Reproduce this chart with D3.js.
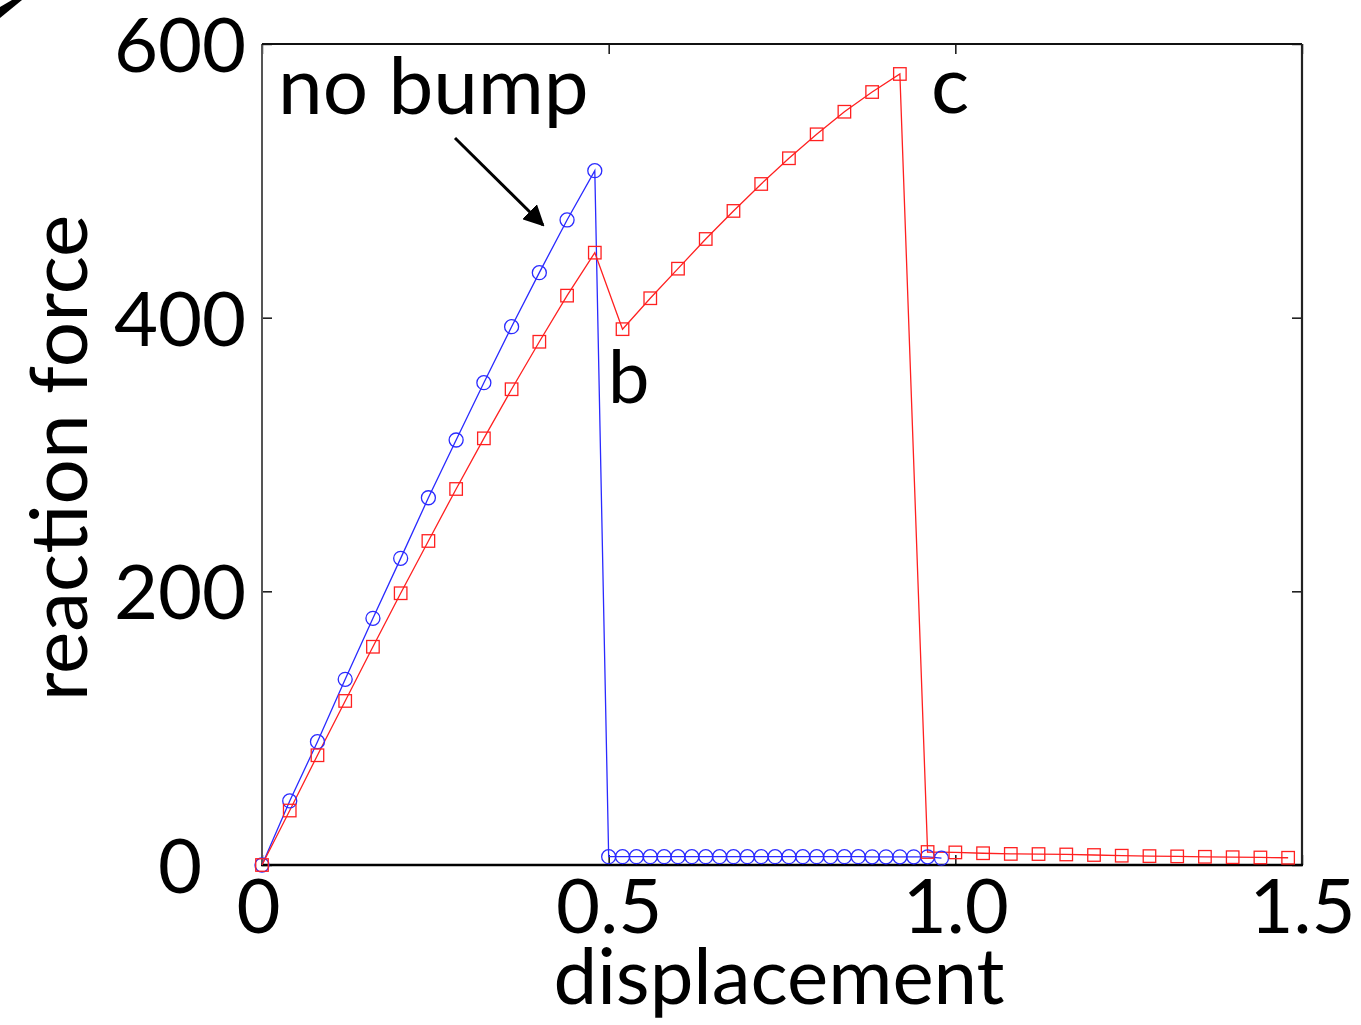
<!DOCTYPE html>
<html>
<head>
<meta charset="utf-8">
<script src="https://cdn.jsdelivr.net/npm/d3@7"></script>
<style>
  html, body { margin: 0; padding: 0; background: #fff; }
  svg { display: block; }
  text { font-family: Lato, "Open Sans", sans-serif; fill: #000; }
</style>
</head>
<body>
<svg id="chart" width="1361" height="1025"></svg>
<script>
// Reaction force vs. displacement: without bump (blue circles) and with bump (red squares)
const dispNoBump = [0, 0.04, 0.08, 0.12, 0.16, 0.20, 0.24, 0.28, 0.32, 0.36, 0.40, 0.44, 0.48,
  0.50, 0.52, 0.54, 0.56, 0.58, 0.60, 0.62, 0.64, 0.66, 0.68, 0.70, 0.72, 0.74, 0.76, 0.78,
  0.80, 0.82, 0.84, 0.86, 0.88, 0.90, 0.92, 0.94, 0.96, 0.98];
const forceNoBump = [0, 46.8, 90.1, 135.7, 180.3, 224.1, 268.4, 310.6, 352.5, 393.4, 432.9, 471.4, 507.4,
  6.1, 6.1, 6.1, 6.1, 6.1, 6.1, 6.1, 6.1, 6.1, 6.1, 6.1, 6.1, 6.1, 6.1, 6.1,
  6.1, 6.1, 6.1, 6.1, 6.0, 6.0, 6.0, 6.0, 6.0, 5.0];

const dispBump = [0, 0.04, 0.08, 0.12, 0.16, 0.20, 0.24, 0.28, 0.32, 0.36, 0.40, 0.44, 0.48,
  0.52, 0.56, 0.60, 0.64, 0.68, 0.72, 0.76, 0.80, 0.84, 0.88, 0.92,
  0.96, 1.00, 1.04, 1.08, 1.12, 1.16, 1.20, 1.24, 1.28, 1.32, 1.36, 1.40, 1.44, 1.48];
const forceBump = [0, 39.8, 80.2, 119.9, 159.5, 198.6, 236.8, 274.8, 311.8, 347.7, 382.4, 416.1, 447.5,
  391.6, 414.2, 435.8, 457.5, 478.0, 497.7, 516.5, 534.0, 550.5, 564.9, 578.1,
  9.5, 9.2, 8.6, 8.1, 8.0, 7.7, 7.3, 6.8, 6.5, 6.3, 6.0, 5.7, 5.5, 5.3];

const xTicks = [0, 0.5, 1.0, 1.5];
const xTickLabels = ["0", "0.5", "1.0", "1.5"];
const yTicks = [0, 200, 400, 600];
const yTickLabels = ["0", "200", "400", "600"];

(function () {
  const svg = d3.select("#chart");
  const plotLeft = 262, plotRight = 1302, plotTop = 44, plotBottom = 865;

  const x = d3.scaleLinear().domain([0, 1.5]).range([plotLeft, plotRight]);
  const y = d3.scaleLinear().domain([0, 600]).range([plotBottom, plotTop]);

  // partial panel letter at the page corner
  svg.append("path").attr("d", "M0,7 L12,0 L22,0 L0,18 Z").attr("fill", "#000");

  // axes with inward ticks on all four sides
  const tickLen = 10;
  const gx = svg.append("g").attr("transform", `translate(0,${plotBottom})`)
    .call(d3.axisBottom(x).tickValues(xTicks).tickSizeInner(-tickLen).tickSizeOuter(0)
      .tickPadding(14).tickFormat((d, i) => xTickLabels[i]));
  const gxTop = svg.append("g").attr("transform", `translate(0,${plotTop})`)
    .call(d3.axisTop(x).tickValues(xTicks).tickSizeInner(-tickLen).tickSizeOuter(0).tickFormat(""));
  const gy = svg.append("g").attr("transform", `translate(${plotLeft},0)`)
    .call(d3.axisLeft(y).tickValues(yTicks).tickSizeInner(-tickLen).tickSizeOuter(0)
      .tickPadding(0).tickFormat((d, i) => yTickLabels[i]));
  const gyRight = svg.append("g").attr("transform", `translate(${plotRight},0)`)
    .call(d3.axisRight(y).tickValues(yTicks).tickSizeInner(-tickLen).tickSizeOuter(0).tickFormat(""));

  [gx, gxTop, gy, gyRight].forEach(g => {
    g.select(".domain").remove();
    g.selectAll(".tick line").attr("stroke", "#000").attr("stroke-width", 1.4);
  });

  gx.selectAll(".tick text")
    .attr("font-size", 76).attr("font-family", "Lato, sans-serif")
    .attr("dy", "0.71em").attr("y", 14);
  gx.selectAll(".tick").filter(d => d === 0).select("text").attr("dx", -4);

  gy.selectAll(".tick text")
    .attr("font-size", 76).attr("font-family", "Lato, sans-serif")
    .attr("text-anchor", "middle").attr("x", -82).attr("dy", "0.36em");

  // plot frame
  svg.append("line").attr("x1", plotLeft).attr("x2", plotLeft).attr("y1", plotTop).attr("y2", plotBottom)
    .attr("stroke", "#555").attr("stroke-width", 2);
  svg.append("line").attr("x1", plotLeft).attr("x2", plotRight).attr("y1", plotTop).attr("y2", plotTop)
    .attr("stroke", "#111").attr("stroke-width", 1.8);
  svg.append("line").attr("x1", plotRight).attr("x2", plotRight).attr("y1", plotTop).attr("y2", plotBottom)
    .attr("stroke", "#222").attr("stroke-width", 2.2);
  svg.append("line").attr("x1", plotLeft - 1).attr("x2", plotRight + 1).attr("y1", plotBottom).attr("y2", plotBottom)
    .attr("stroke", "#000").attr("stroke-width", 2.4);

  // series
  const blueColor = "#2a2aff";
  const redColor = "#ff2020";
  const blueData = dispNoBump.map((d, i) => [d, forceNoBump[i]]);
  const redData = dispBump.map((d, i) => [d, forceBump[i]]);
  const line = d3.line().x(d => x(d[0])).y(d => y(d[1]));

  svg.append("path").datum(blueData).attr("d", line)
    .attr("fill", "none").attr("stroke", blueColor).attr("stroke-width", 1.3);
  svg.append("path").datum(redData).attr("d", line)
    .attr("fill", "none").attr("stroke", redColor).attr("stroke-width", 1.3);

  svg.append("g").selectAll("circle").data(blueData).join("circle")
    .attr("cx", d => x(d[0])).attr("cy", d => y(d[1])).attr("r", 7)
    .attr("fill", "none").attr("stroke", blueColor).attr("stroke-width", 1.3);

  const sq = 12.5;
  svg.append("g").selectAll("rect").data(redData).join("rect")
    .attr("x", d => x(d[0]) - sq / 2).attr("y", d => y(d[1]) - sq / 2)
    .attr("width", sq).attr("height", sq)
    .attr("fill", "none").attr("stroke", redColor).attr("stroke-width", 1.3);

  // axis titles
  svg.append("text").attr("x", 779).attr("y", 1004).attr("text-anchor", "middle")
    .attr("font-size", 78).text("displacement");
  svg.append("text").attr("transform", "translate(87,458) rotate(-90)").attr("text-anchor", "middle")
    .attr("font-size", 80).text("reaction force");

  // annotations
  svg.append("text").attr("x", 278).attr("y", 114).attr("font-size", 80).text("no bump");
  svg.append("text").attr("x", 608).attr("y", 403).attr("font-size", 74).text("b");
  svg.append("text").attr("x", 931).attr("y", 113).attr("font-size", 80).text("c");

  svg.append("defs").append("marker").attr("id", "arrowHead")
    .attr("viewBox", "0 0 10 10").attr("refX", 9).attr("refY", 5)
    .attr("markerWidth", 7).attr("markerHeight", 7).attr("markerUnits", "strokeWidth")
    .attr("orient", "auto")
    .append("path").attr("d", "M0,0 L10,5 L0,10 Z").attr("fill", "#000");
  svg.append("line").attr("x1", 455).attr("y1", 138).attr("x2", 543).attr("y2", 225)
    .attr("stroke", "#000").attr("stroke-width", 3).attr("marker-end", "url(#arrowHead)");
})();
</script>
</body>
</html>
